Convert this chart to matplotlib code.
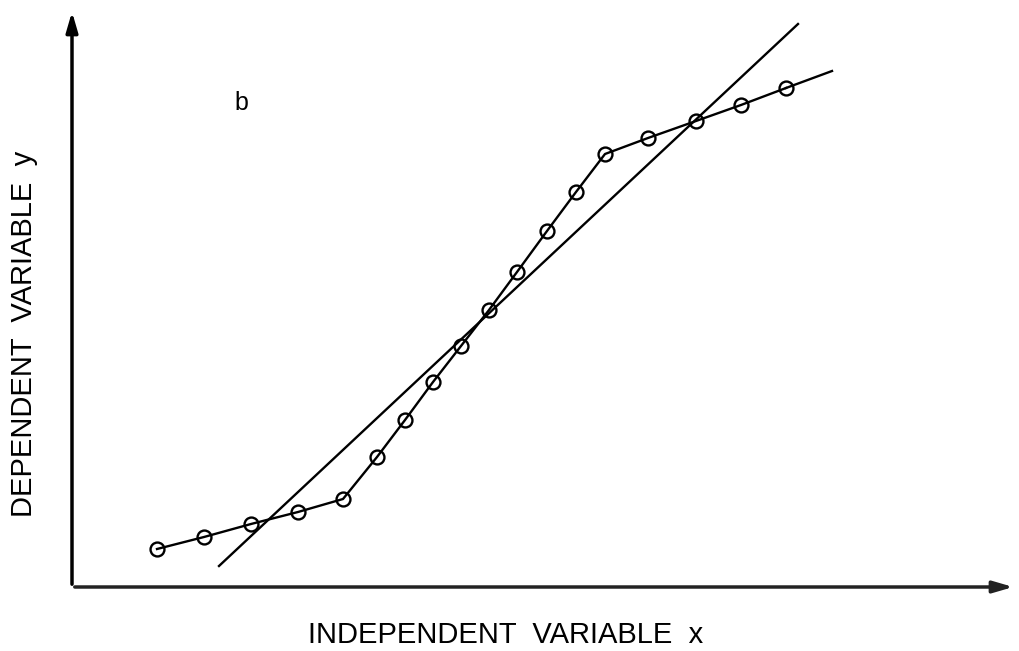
import numpy as np
import matplotlib
matplotlib.use('Agg')
import matplotlib.pyplot as plt

# measured points (origin at the axis corner)
x_pts = [85, 132, 179, 226, 271, 305, 333, 361, 389, 417, 445, 475, 504, 533, 576, 624, 669, 714]
y_pts = [38, 50, 63, 75, 88, 130, 167, 205, 241, 277, 315, 356, 395, 433, 449, 466, 482, 499]
# curve continues past last point
x_tail = [714, 760]
y_tail = [499, 516]
# straight fitted line
x_fit = [147, 726]
y_fit = [21, 563]

font = ['Liberation Sans', 'DejaVu Sans']

fig = plt.figure(figsize=(10.2, 6.51), dpi=100)
ax = fig.add_axes([0, 0, 1, 1])
ax.set_xlim(-72, 1020 - 72)
ax.set_ylim(587 - 651, 587)
ax.axis('off')

# axes with arrow heads
ax.annotate('', xy=(0, 578), xytext=(0, 0),
            arrowprops=dict(arrowstyle='-|>,head_length=1.2,head_width=0.35', lw=2.5, color='black'))
ax.annotate('', xy=(944, 0), xytext=(0, 0),
            arrowprops=dict(arrowstyle='-|>,head_length=1.2,head_width=0.35', lw=2.5, color='#222222'))

ax.plot(x_fit, y_fit, color='black', lw=1.7)
ax.plot(x_tail, y_tail, color='black', lw=1.7)
ax.plot(x_pts, y_pts, color='black', lw=1.7, marker='o', markersize=10,
        markerfacecolor='none', markeredgewidth=1.7)

ax.text(169, 484, 'b', fontsize=18, ha='center', va='center', family=font)
ax.text(434, -48, 'INDEPENDENT  VARIABLE  x', fontsize=21, ha='center', va='center',
        family=font)
ax.text(-48, 253, 'DEPENDENT  VARIABLE  y', fontsize=21, ha='center', va='center',
        rotation=90, family=font)

fig.savefig('out.png', dpi=100)
